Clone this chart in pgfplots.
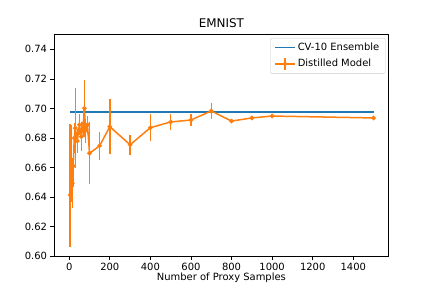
\documentclass[border=0pt]{standalone}
\usepackage{pgfplots}
\pgfplotsset{compat=1.18}
\usepackage{fontspec}
\setmainfont{DejaVu Sans}
\definecolor{C0}{HTML}{1F77B4}
\definecolor{C1}{HTML}{FF7F0E}
\pgfplotsset{
  linelegend/.style={legend image code/.code={\draw[##1, mark=none] (0bp,0bp) -- (20bp,0bp);}},
  errlegend/.style={legend image code/.code={\draw[##1, mark=none] (0bp,0bp) -- (20bp,0bp); \draw[##1, mark=none] (10bp,-6bp) -- (10bp,6bp); \draw[##1] plot coordinates {(10bp,0bp)};}},
}
\begin{document}
\begin{tikzpicture}
\begin{axis}[
  name=ax,
  at={(0,0)}, anchor=south west,
  scale only axis,
  width=334.8bp, height=221.8bp,
  xmin=-75, xmax=1575,
  ymin=0.60, ymax=0.75,
  xtick={0,200,400,600,800,1000,1200,1400},
  ytick={0.60,0.62,0.64,0.66,0.68,0.70,0.72,0.74},
  /pgf/number format/assume math mode=true,
  yticklabel style={/pgf/number format/.cd,fixed,fixed zerofill,precision=2},
  xticklabel style={/pgf/number format/.cd,fixed,1000 sep={}},
  scaled y ticks=false,
  tick align=outside,
  tick pos=left,
  major tick length=3.5bp,
  every tick/.style={black, line width=0.8bp},
  axis line style={line width=0.8bp},
  tick label style={font=\fontsize{10}{12}\selectfont},
  title={EMNIST},
  title style={font=\fontsize{12}{14}\selectfont, at={(axis description cs:0.5,1)}, anchor=base, yshift=1.5bp},
  xlabel={Number of Proxy Samples},
  xlabel style={font=\fontsize{10}{12}\selectfont, at={(axis description cs:0.5,0)}, anchor=center, yshift=-21bp},
  legend style={at={(0.99,0.985)}, anchor=north east, draw=black!20, rounded corners=2bp, font=\fontsize{10}{12}\selectfont, cells={anchor=west}, inner xsep=4bp, inner ysep=3bp, row sep=3bp},
  legend cell align=left,
]
\addplot[C0, line width=1.5bp, mark=none, linelegend] coordinates {(5,0.6975) (1500,0.6975)};
\addlegendentry{CV-10 Ensemble}
\addplot[C1, line width=1.5bp, mark=*, mark size=1.5bp, errlegend,
  error bars/.cd, y dir=both, y explicit, error mark=none,
  error bar style={line width=1.5bp, color=C1},
] coordinates {
(5,0.6415) += (0,0.048) -= (0,0.035)
(10,0.6629) +- (0,0.026)
(15,0.6494) +- (0,0.017)
(20,0.6610) +- (0,0.014)
(25,0.6800) +- (0,0.010)
(30,0.6868) +- (0,0.027)
(40,0.6780) +- (0,0.008)
(50,0.6890) +- (0,0.007)
(60,0.6810) +- (0,0.010)
(70,0.6900) +- (0,0.009)
(75,0.7001) +- (0,0.0195)
(80,0.6850) +- (0,0.008)
(90,0.6890) +- (0,0.006)
(100,0.6697) +- (0,0.021)
(150,0.6748) +- (0,0.0095)
(200,0.6877) +- (0,0.0185)
(300,0.6755) +- (0,0.0068)
(400,0.6870) +- (0,0.0093)
(500,0.6909) +- (0,0.0056)
(600,0.6922) +- (0,0.0040)
(700,0.6983) +- (0,0.0054)
(800,0.6915) +- (0,0.0010)
(900,0.6936) +- (0,0.0015)
(1000,0.6949) +- (0,0.0015)
(1500,0.6936) +- (0,0.0010)
};
\addlegendentry{Distilled Model}
\end{axis}
\pgfresetboundingbox
\path[use as bounding box] ([xshift=-54bp,yshift=-31.7bp]ax.south west) rectangle ([xshift=43.2bp,yshift=34.56bp]ax.north east);
\end{tikzpicture}
\end{document}
